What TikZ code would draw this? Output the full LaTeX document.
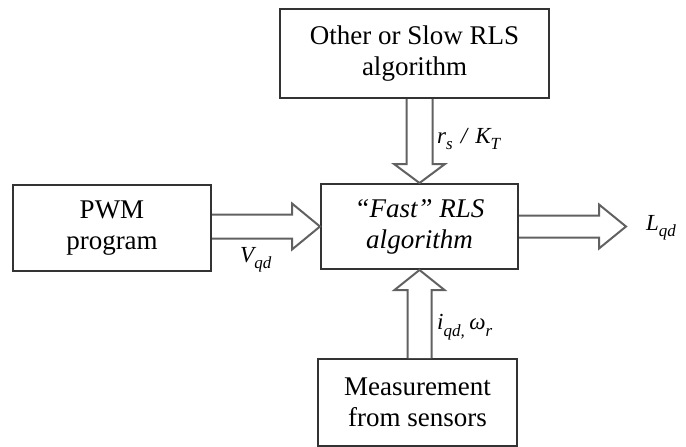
\documentclass[tikz,border=0pt]{standalone}
\usepackage{fontspec}
\setmainfont{Liberation Serif}
\usetikzlibrary{calc}
% italic subscript, set a little larger and lower than \textsubscript
\newcommand\lsub[1]{\raisebox{-0.28em}{\fontsize{17}{17}\selectfont\itshape #1}}
\begin{document}
\begin{tikzpicture}[x=1pt,y=-1pt,
  blk/.style={draw=black!80, line width=2pt, fill=white, rectangle,
    align=center, inner sep=0pt, font=\fontsize{27}{31}\selectfont},
  flow/.style={draw=black!62, line width=2pt, fill=white, line join=miter},
  lbl/.style={inner sep=0pt, font=\fontsize{23}{26}\selectfont\itshape}]
\useasboundingbox (0,0) rectangle (686,447);

% blocks
\node[blk, minimum width=269pt, minimum height=89pt] (other) at (414.5,53.5)
  {Other or Slow RLS\\algorithm};
\node[blk, minimum width=198pt, minimum height=86pt] (pwm) at (112,228)
  {PWM\\program};
\node[blk, minimum width=197pt, minimum height=85pt] (fast) at (419.5,226.5)
  {\itshape “Fast” RLS\\\itshape algorithm};
\node[blk, minimum width=199pt, minimum height=87pt] (meas) at (417.5,402.5)
  {Measurement\\from sensors};
\coordinate (out) at (626,226.5);

% hollow block arrows
% PWM -> fast
\draw[flow] let \p1=(pwm.east), \p2=(fast.west) in
  (\x1,\y2+12pt) -- (\x2-28pt,\y2+12pt) -- (\x2-28pt,\y2+23pt) -- (\x2,\y2)
  -- (\x2-28pt,\y2-23pt) -- (\x2-28pt,\y2-12pt) -- (\x1,\y2-12pt);
% fast -> output
\draw[flow] let \p1=(fast.east), \p2=(out) in
  (\x1,\y1+11pt) -- (\x2-27pt,\y1+11pt) -- (\x2-27pt,\y1+22pt) -- (\x2,\y1)
  -- (\x2-27pt,\y1-22pt) -- (\x2-27pt,\y1-11pt) -- (\x1,\y1-11pt);
% other -> fast
\draw[flow] let \p1=(other.south), \p2=(fast.north) in
  (\x2-13pt,\y1) -- (\x2-13pt,\y2+19pt) -- (\x2-25.5pt,\y2+19pt) -- (\x2,\y2)
  -- (\x2+25.5pt,\y2+19pt) -- (\x2+13pt,\y2+19pt) -- (\x2+13pt,\y1);
% measurement -> fast
\draw[flow] let \p1=(meas.north), \p2=(fast.south) in
  (\x2-12pt,\y1) -- (\x2-12pt,\y2-20pt) -- (\x2-25pt,\y2-20pt) -- (\x2,\y2)
  -- (\x2+25pt,\y2-20pt) -- (\x2+12pt,\y2-20pt) -- (\x2+12pt,\y1);

% signal labels
\node[lbl, anchor=west] (rk) at (437,139) {r\lsub{s}\hspace{0.35em}/\hspace{0.35em}K\lsub{T}};
\node[lbl, anchor=west] (vqd) at (240,260) {V\lsub{qd}};
\node[lbl, anchor=west] (iw) at (437,327) {i\lsub{qd,}\hspace{0.2em}ω\lsub{r}};
\node[lbl, anchor=west] (lqd) at (646,228) {L\lsub{qd}};
\end{tikzpicture}
\end{document}
